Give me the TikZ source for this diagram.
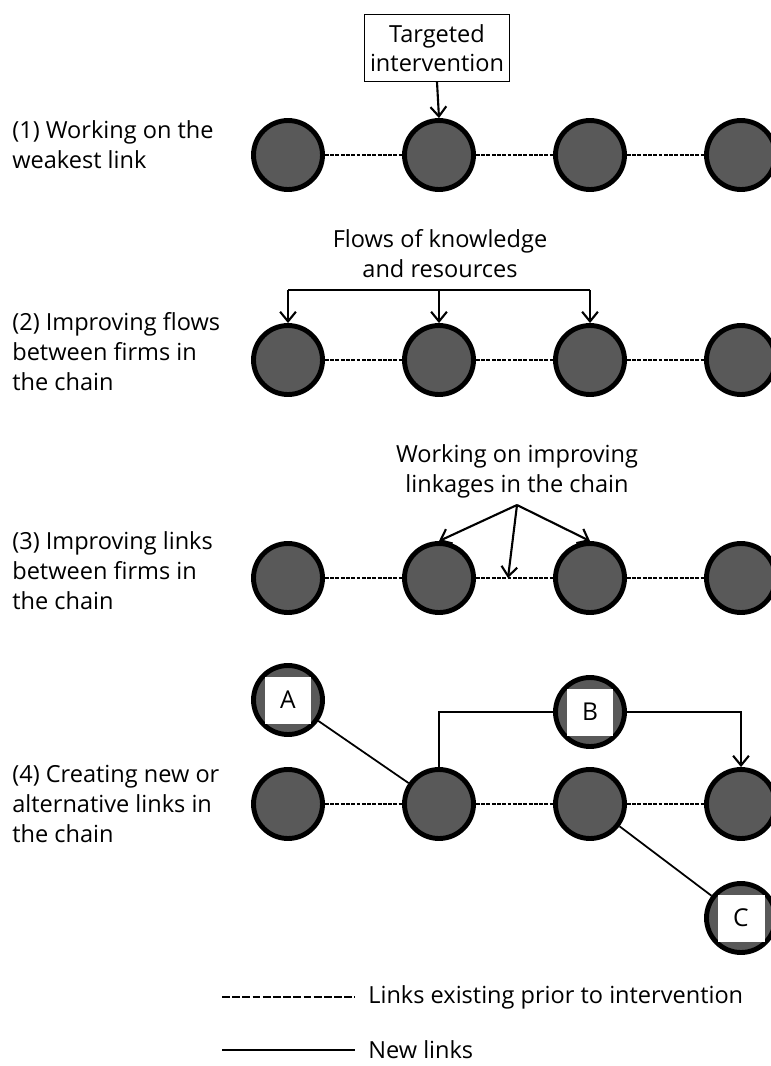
\documentclass[tikz,border=0pt]{standalone}
\usepackage{fontspec}
\setmainfont{Open Sans}
\usetikzlibrary{arrows.meta}

\definecolor{firmgrey}{RGB}{89,89,89}
\tikzset{
  firm/.style={circle, draw=black, line width=2.8pt, fill=firmgrey, minimum size=1.38cm, inner sep=0pt},
  tagbox/.style={fill=white, minimum size=0.94cm, inner sep=0pt, font=\fontsize{14}{16}\selectfont},
  oldlink/.style={line width=0.8pt, dash pattern=on 2.2pt off 0.8pt},
  newlink/.style={line width=1pt},
  flow/.style={line width=1.2pt, -{Straight Barb[length=5.5pt,width=9pt,line width=1.2pt]}},
  rowtext/.style={anchor=base west, align=left, inner sep=0pt, font=\fontsize{13.4}{17}\selectfont},
  toptext/.style={anchor=base, align=center, inner sep=0pt, font=\fontsize{13.4}{17}\selectfont}
}

\begin{document}
\begin{tikzpicture}[x=0.02cm,y=-0.02cm]
  \useasboundingbox (0,0) rectangle (771,1066);

  % the four chains
  \foreach \r/\y in {1/155,2/360,3/578,4/804} {
    \foreach \i/\x in {0/288,1/439,2/590,3/741}
      \node[firm] (c\r\i) at (\x,\y) {};
    \draw[oldlink] (c\r0) -- (c\r1) (c\r1) -- (c\r2) (c\r2) -- (c\r3);
  }

  % base = last line
  \node[rowtext] (t1) at (12,168) {(1) Working on the\\weakest link};
  \node[rowtext] (t2) at (12,390) {(2) Improving flows\\between firms in\\the chain};
  \node[rowtext] (t3) at (12,609) {(3) Improving links\\between firms in\\the chain};
  \node[rowtext] (t4) at (12,842) {(4) Creating new or\\alternative links in\\the chain};

  % (1)
  \node[draw, line width=0.6pt, minimum width=2.9cm, minimum height=1.34cm, align=center,
        inner sep=1pt, font=\fontsize{13.4}{16.5}\selectfont] (box) at (437,48) {Targeted\\intervention};
  \draw[flow] (box.south) -- (c11.north);

  % (2)
  \node[toptext] (fk) at (440,277) {Flows of knowledge\\and resources};
  \coordinate (fl) at (439,290);
  \draw[line width=1.2pt] (fl -| c20) -- (fl -| c22);
  \foreach \i in {0,1,2}
    \draw[flow] (fl -| c2\i) -- (c2\i.north);

  % (3)
  \node[toptext] (wo) at (517,492) {Working on improving\\linkages in the chain};
  \coordinate (wk) at (517,505);
  \coordinate (mid) at (508,578);
  \draw[flow] (wk) -- (c31.north);
  \draw[flow] (wk) -- (c32.north);
  \draw[flow] (wk) -- (mid);

  % (4)
  \node[firm] (A) at (288,700) {};
  \node[tagbox] (tA) at (A) {A};
  \node[firm] (B) at (590,712) {};
  \node[tagbox] (tB) at (B) {B};
  \node[firm] (C) at (741,918) {};
  \node[tagbox] (tC) at (C) {C};
  \draw[newlink] (A) -- (c41);
  \draw[line width=1.2pt] (c41.north) |- (B.west);
  \draw[flow] (B.east) -| (c43.north);
  \draw[newlink] (c42) -- (C);

  % legend
  \coordinate (l1) at (222,997);
  \coordinate (l2) at (355,997);
  \coordinate (n1) at (222,1050);
  \coordinate (n2) at (355,1050);
  \draw[line width=1.2pt, dash pattern=on 4.5pt off 1.3pt] (l1) -- (l2);
  \node[anchor=west, inner sep=0pt, font=\fontsize{13.4}{17}\selectfont] (lt) at (368,997) {Links existing prior to intervention};
  \draw[line width=1.2pt] (n1) -- (n2);
  \node[anchor=west, inner sep=0pt, font=\fontsize{13.4}{17}\selectfont] (nt) at (368,1050) {New links};
\end{tikzpicture}
\end{document}
